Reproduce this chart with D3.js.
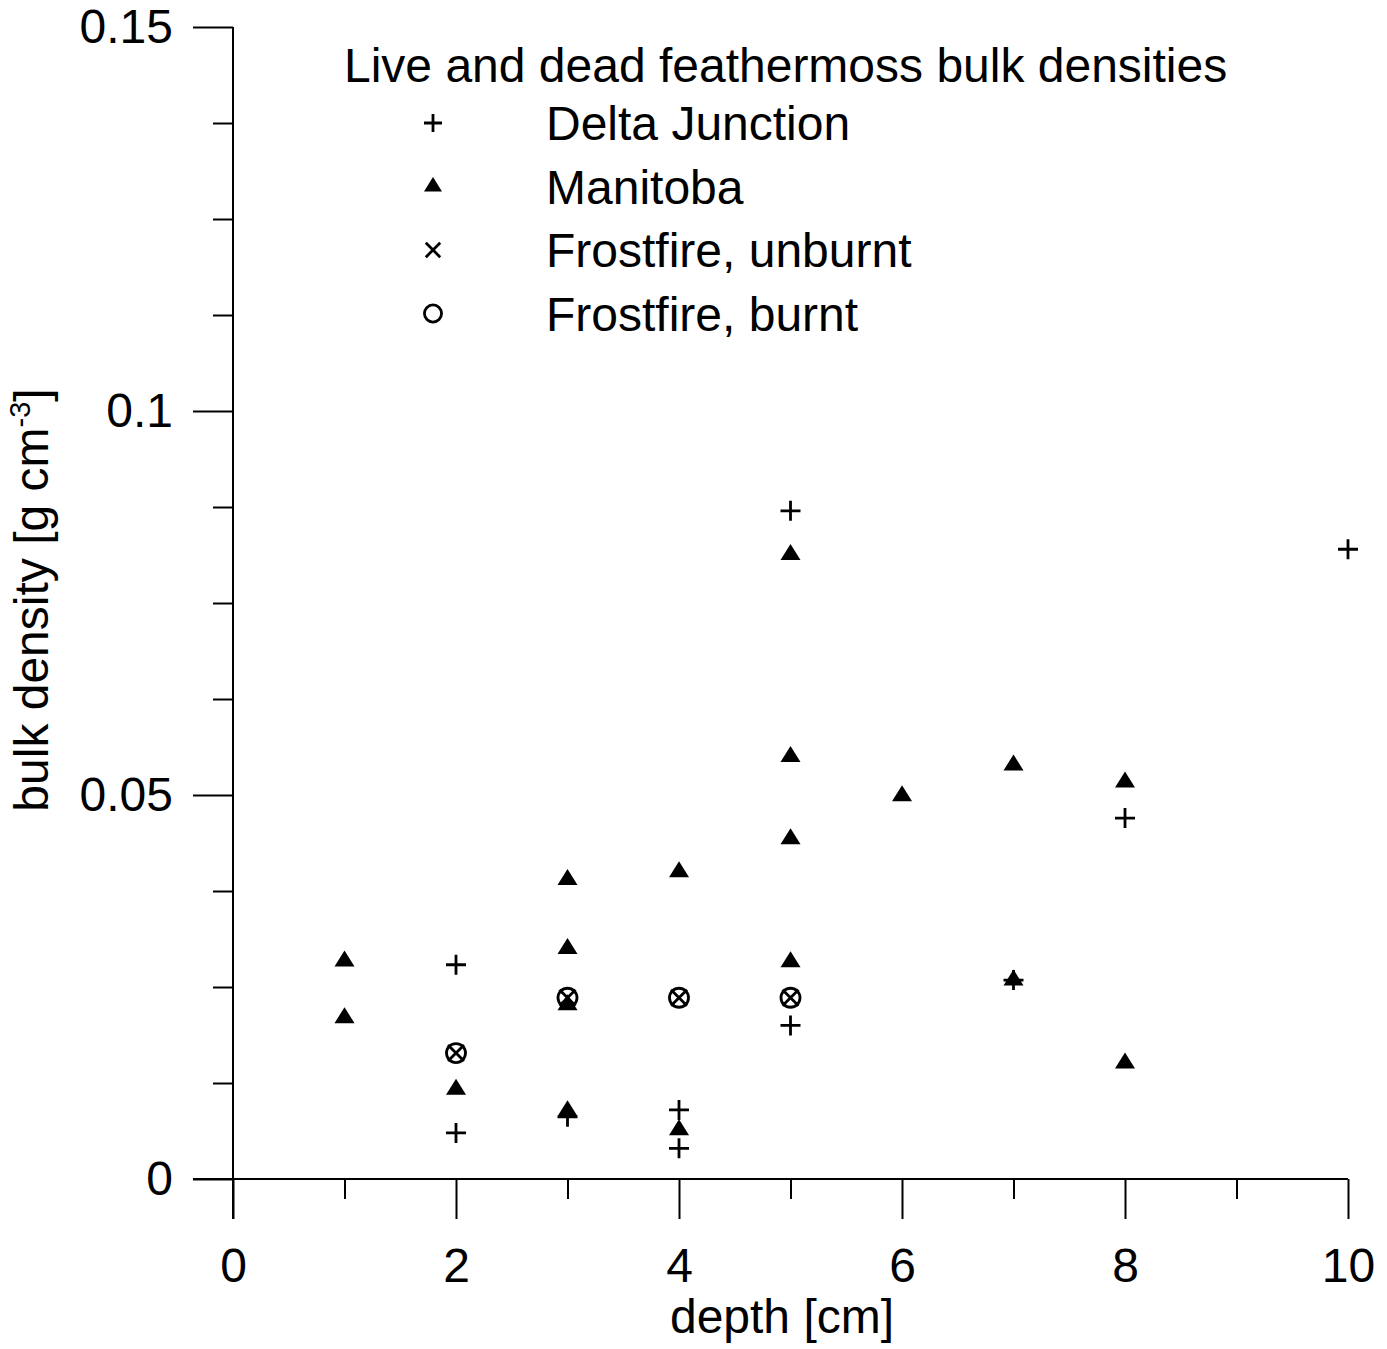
<!DOCTYPE html>
<html>
<head>
<meta charset="utf-8">
<script src="https://cdn.jsdelivr.net/npm/d3@7"></script>
<style>
  body { margin: 0; background: #fff; }
  text { font-family: "Liberation Sans", Arial, sans-serif; fill: #000; }
</style>
</head>
<body>
<div id="chart"></div>
<script>
// data: depth [cm] and bulk density [g cm-3]
var deltaDepth   = [2, 2, 3, 4, 4, 5, 5, 7, 8, 10];
var deltaDensity = [0.0279, 0.0060, 0.0081, 0.0090, 0.0040, 0.0870, 0.0200, 0.0259, 0.0470, 0.0820];

var manitobaDepth   = [1, 1, 2, 3, 3, 3, 3, 4, 4, 5, 5, 5, 5, 6, 7, 7, 8, 8];
var manitobaDensity = [0.0284, 0.0210, 0.0117, 0.0390, 0.0300, 0.0227, 0.0089, 0.0400, 0.0064,
                       0.0813, 0.0550, 0.0443, 0.0283, 0.0499, 0.0539, 0.0259, 0.0517, 0.0151];

var unburntDepth   = [2, 3, 4, 5];
var unburntDensity = [0.0164, 0.0236, 0.0236, 0.0236];

var burntDepth   = [2, 3, 4, 5];
var burntDensity = [0.0164, 0.0236, 0.0236, 0.0236];

var seriesNames = ["Delta Junction", "Manitoba", "Frostfire, unburnt", "Frostfire, burnt"];
var seriesShapes = ["plus", "triangle", "times", "circle"];
var legendTitle = "Live and dead feathermoss bulk densities";

var xTicks = d3.range(0, 11, 1);
var xLabels = [0, 2, 4, 6, 8, 10];
var yTicks = d3.range(0, 0.15 + 1e-9, 0.0125);
var yLabels = ["0", "0.05", "0.1", "0.15"];

var svgWidth = 1387;
var svgHeight = 1349;
var fontSize = 48;

var svg = d3.select("#chart")
    .append("svg")
    .attr("width", svgWidth)
    .attr("height", svgHeight);

var x = d3.scaleLinear().domain([0, 10]).range([233, 1348]);
var y = d3.scaleLinear().domain([0, 0.15]).range([1179, 27]);

var majorLen = 40, minorLen = 20;

// x axis
var xAxis = svg.append("g")
    .attr("transform", `translate(0,${y(0)})`)
    .call(d3.axisBottom(x)
        .tickValues(xTicks)
        .tickSize(majorLen)
        .tickSizeOuter(0)
        .tickPadding(29)
        .tickFormat(d => xLabels.indexOf(d) >= 0 ? d : ""));
xAxis.select(".domain").remove();
xAxis.selectAll(".tick line")
    .attr("stroke-width", 2)
    .attr("y2", d => d % 2 === 0 ? majorLen : minorLen);
xAxis.selectAll(".tick text")
    .style("font-size", fontSize + "px")
    .style("font-family", "'Liberation Sans', Arial, sans-serif");

// y axis
var yAxis = svg.append("g")
    .attr("transform", `translate(${x(0)},0)`)
    .call(d3.axisLeft(y)
        .tickValues(yTicks)
        .tickSize(majorLen)
        .tickSizeOuter(0)
        .tickPadding(20)
        .tickFormat(function(d) {
            var k = Math.round(d / 0.0125);
            return k % 4 === 0 ? yLabels[k / 4] : "";
        }));
yAxis.select(".domain").remove();
yAxis.selectAll(".tick line")
    .attr("stroke-width", 2)
    .attr("x2", d => Math.round(d / 0.0125) % 4 === 0 ? -majorLen : -minorLen);
yAxis.selectAll(".tick text")
    .style("font-size", fontSize + "px")
    .style("font-family", "'Liberation Sans', Arial, sans-serif");

// axis lines cross and run past each other by one major tick
svg.append("line")
    .attr("x1", x(0) - majorLen).attr("x2", x(10))
    .attr("y1", y(0)).attr("y2", y(0))
    .attr("stroke", "#000").attr("stroke-width", 2);
svg.append("line")
    .attr("x1", x(0)).attr("x2", x(0))
    .attr("y1", y(0.15)).attr("y2", y(0) + majorLen)
    .attr("stroke", "#000").attr("stroke-width", 2);

// axis titles
svg.append("text")
    .attr("x", 782)
    .attr("y", 1333)
    .attr("text-anchor", "middle")
    .style("font-size", fontSize + "px")
    .text("depth [cm]");

var yTitle = svg.append("text")
    .attr("transform", "translate(48,600) rotate(-90)")
    .attr("text-anchor", "middle")
    .style("font-size", fontSize + "px");
yTitle.append("tspan").text("bulk density [g cm");
yTitle.append("tspan").attr("dy", -18).style("font-size", "29px").text("-3");
yTitle.append("tspan").attr("dy", 18).text("]");

// marker shapes, s scales the size (legend markers are a touch smaller)
function markerPath(shape, cx, cy, s) {
    if (shape === "plus") {
        return `M${cx - 10 * s},${cy}H${cx + 10 * s}M${cx},${cy - 10 * s}V${cy + 10 * s}`;
    }
    if (shape === "times") {
        return `M${cx - 8 * s},${cy - 8 * s}L${cx + 8 * s},${cy + 8 * s}M${cx - 8 * s},${cy + 8 * s}L${cx + 8 * s},${cy - 8 * s}`;
    }
    if (shape === "triangle") {
        return `M${cx},${cy - 10.5 * s}L${cx + 10 * s},${cy + 5.5 * s}L${cx - 10 * s},${cy + 5.5 * s}Z`;
    }
    var r = 9.5 * s;
    return `M${cx - r},${cy}A${r},${r} 0 1,0 ${cx + r},${cy}A${r},${r} 0 1,0 ${cx - r},${cy}Z`;
}

function drawMarker(g, shape, cx, cy, s) {
    var p = g.append("path").attr("d", markerPath(shape, cx, cy, s));
    if (shape === "triangle") {
        p.attr("fill", "#000").attr("stroke", "none");
    } else {
        p.attr("fill", "none").attr("stroke", "#000").attr("stroke-width", 2.8);
    }
}

var series = [
    {depth: deltaDepth, density: deltaDensity, shape: "plus"},
    {depth: manitobaDepth, density: manitobaDensity, shape: "triangle"},
    {depth: unburntDepth, density: unburntDensity, shape: "times"},
    {depth: burntDepth, density: burntDensity, shape: "circle"}
];

var pointsGroup = svg.append("g");
series.forEach(function(s) {
    s.depth.forEach(function(dep, i) {
        drawMarker(pointsGroup, s.shape, x(dep), y(s.density[i]), 1);
    });
});

// legend
var legend = svg.append("g");
legend.append("text")
    .attr("x", 344)
    .attr("y", 82)
    .style("font-size", fontSize + "px")
    .text(legendTitle);

seriesNames.forEach(function(name, i) {
    var cy = 123 + i * 63.5;
    drawMarker(legend, seriesShapes[i], 433, cy, 0.9);
    legend.append("text")
        .attr("x", 546)
        .attr("y", cy + 17)
        .style("font-size", fontSize + "px")
        .text(name);
});
</script>
</body>
</html>
